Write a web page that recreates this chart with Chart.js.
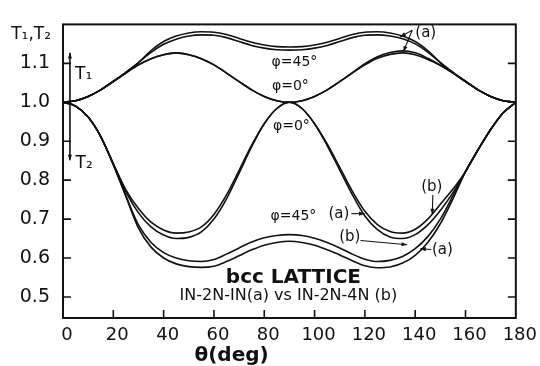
<!DOCTYPE html>
<html>
<head>
<meta charset="utf-8">
<script src="https://cdn.jsdelivr.net/npm/chart.js@4/dist/chart.umd.min.js"></script>
<style>
  html, body { margin: 0; padding: 0; background: #fff; }
  #wrap { width: 540px; height: 366px; }
</style>
</head>
<body>
<div id="wrap"><canvas id="grafico" width="540" height="366"></canvas></div>
<script>
// theta (deg) em passos de 5
const theta = [0,5,10,15,20,25,30,35,40,45,50,55,60,65,70,75,80,85,90,
               95,100,105,110,115,120,125,130,135,140,145,150,155,160,165,170,175,180];

// T1, phi = 45 (a) e (b)
const t1Phi45a = [1.000,1.004,1.015,1.032,1.054,1.077,1.102,1.133,1.156,1.170,1.178,1.181,1.180,1.174,1.164,1.154,1.147,1.143,1.142,
                  1.143,1.147,1.154,1.164,1.174,1.180,1.181,1.178,1.170,1.156,1.133,1.102,1.077,1.054,1.032,1.015,1.004,1.000];
const t1Phi45b = [1.000,1.004,1.015,1.032,1.054,1.077,1.102,1.128,1.149,1.162,1.170,1.173,1.172,1.166,1.156,1.146,1.139,1.135,1.134,
                  1.135,1.139,1.146,1.156,1.166,1.172,1.173,1.170,1.163,1.150,1.129,1.102,1.077,1.054,1.032,1.015,1.004,1.000];

// T1, phi = 0 (a) e (b)
const t1Phi0a = [1.000,1.004,1.015,1.032,1.053,1.075,1.096,1.112,1.122,1.127,1.122,1.112,1.096,1.075,1.053,1.032,1.015,1.004,1.000,
                 1.004,1.015,1.032,1.053,1.076,1.099,1.117,1.128,1.132,1.127,1.113,1.095,1.075,1.053,1.032,1.015,1.004,1.000];
const t1Phi0b = [1.000,1.004,1.015,1.032,1.053,1.075,1.096,1.112,1.122,1.127,1.122,1.112,1.096,1.075,1.053,1.032,1.015,1.004,1.000,
                 1.004,1.015,1.032,1.053,1.075,1.096,1.113,1.123,1.127,1.122,1.110,1.095,1.075,1.053,1.032,1.015,1.004,1.000];

// T2, phi = 0 (a) e (b)
const t2Phi0a = [1.000,0.990,0.962,0.912,0.842,0.775,0.727,0.692,0.672,0.664,0.667,0.680,0.712,0.762,0.825,0.890,0.945,0.984,1.000,
                 0.984,0.945,0.893,0.833,0.772,0.720,0.686,0.668,0.664,0.674,0.700,0.738,0.777,0.822,0.878,0.930,0.973,1.000];
const t2Phi0b = [1.000,0.990,0.962,0.912,0.842,0.770,0.716,0.680,0.659,0.650,0.653,0.667,0.700,0.752,0.818,0.886,0.945,0.984,1.000,
                 0.984,0.945,0.889,0.826,0.763,0.708,0.673,0.654,0.650,0.660,0.685,0.722,0.768,0.822,0.878,0.930,0.973,1.000];

// T2, phi = 45 (a) e (b)
const t2Phi45a = [1.000,0.990,0.962,0.912,0.840,0.760,0.685,0.640,0.614,0.600,0.593,0.591,0.596,0.610,0.626,0.641,0.652,0.658,0.660,
                  0.658,0.651,0.640,0.626,0.610,0.597,0.591,0.594,0.604,0.624,0.655,0.700,0.760,0.822,0.878,0.930,0.973,1.000];
const t2Phi45b = [1.000,0.990,0.962,0.912,0.840,0.758,0.677,0.628,0.600,0.585,0.578,0.576,0.579,0.591,0.606,0.621,0.633,0.640,0.643,
                  0.640,0.633,0.621,0.608,0.593,0.580,0.575,0.577,0.587,0.607,0.640,0.688,0.752,0.822,0.878,0.930,0.973,1.000];

const xTicks = [0,20,40,60,80,100,120,140,160,180];
const yTicks = [0.5,0.6,0.7,0.8,0.9,1.0,1.1];

const series = [t1Phi45a, t1Phi45b, t1Phi0a, t1Phi0b, t2Phi0a, t2Phi0b, t2Phi45a, t2Phi45b];

const FONTE = '"DejaVu Sans", "Liberation Sans", sans-serif';
const TINTA = "#111";

function seta(ctx, x1, y1, x2, y2) {
  const ang = Math.atan2(y2 - y1, x2 - x1);
  const tam = 6;
  ctx.beginPath();
  ctx.moveTo(x1, y1);
  ctx.lineTo(x2, y2);
  ctx.stroke();
  ctx.beginPath();
  ctx.moveTo(x2, y2);
  ctx.lineTo(x2 - tam * Math.cos(ang - 0.35), y2 - tam * Math.sin(ang - 0.35));
  ctx.lineTo(x2 - tam * Math.cos(ang + 0.35), y2 - tam * Math.sin(ang + 0.35));
  ctx.closePath();
  ctx.fill();
}

// moldura, ticks para dentro e anotações
const anotacoes = {
  id: "anotacoes",
  afterDraw(chart) {
    const { ctx, chartArea: a, scales: { x, y } } = chart;
    const px = v => x.getPixelForValue(v);
    const py = v => y.getPixelForValue(v);
    ctx.save();
    ctx.strokeStyle = TINTA;
    ctx.fillStyle = TINTA;
    ctx.lineWidth = 2;
    ctx.strokeRect(a.left, a.top, a.right - a.left, a.bottom - a.top);

    ctx.lineWidth = 1.6;
    xTicks.slice(1, -1).forEach(t => {
      ctx.beginPath();
      ctx.moveTo(px(t), a.bottom);
      ctx.lineTo(px(t), a.bottom - 8);
      ctx.stroke();
    });
    yTicks.forEach(t => {
      ctx.beginPath();
      ctx.moveTo(a.left, py(t));
      ctx.lineTo(a.left + 8, py(t));
      ctx.moveTo(a.right, py(t));
      ctx.lineTo(a.right - 8, py(t));
      ctx.stroke();
    });

    // textos dentro do gráfico
    ctx.textAlign = "center";
    ctx.textBaseline = "middle";
    ctx.font = "14px " + FONTE;
    ctx.fillText("\u03c6=45\u00b0", px(92), py(1.102));
    ctx.fillText("\u03c6=0\u00b0", px(90.4), py(1.041));
    ctx.fillText("\u03c6=0\u00b0", px(90.8), py(0.937));
    ctx.fillText("\u03c6=45\u00b0", px(91.6), py(0.707));

    ctx.font = "15px " + FONTE;
    ctx.fillText("(a)", px(109.7), py(0.712));
    ctx.fillText("(b)", px(114), py(0.654));
    ctx.fillText("(a)", px(150.8), py(0.621));
    ctx.fillText("(b)", px(146.6), py(0.782));
    ctx.fillText("(a)", px(144.2), py(1.178));

    ctx.lineWidth = 1.1;
    seta(ctx, px(114.6), py(0.714), px(119.9), py(0.714));
    seta(ctx, px(118.3), py(0.645), px(136.8), py(0.634));
    seta(ctx, px(146.4), py(0.622), px(142), py(0.624));
    seta(ctx, px(147), py(0.762), px(146.8), py(0.712));
    seta(ctx, px(138.8), py(1.185), px(134), py(1.168));
    seta(ctx, px(138.8), py(1.185), px(135.3), py(1.130));

    // setas T1 / T2
    ctx.lineWidth = 1.6;
    seta(ctx, px(2.75), py(1.0), px(2.75), py(1.127));
    seta(ctx, px(2.75), py(1.0), px(2.75), py(0.851));
    ctx.font = "17px " + FONTE;
    ctx.fillText("T\u2081", px(8.2), py(1.071));
    ctx.fillText("T\u2082", px(8.4), py(0.843));

    ctx.font = "bold 20px " + FONTE;
    ctx.fillText("bcc LATTICE", px(91.6), py(0.549));
    ctx.font = "16px " + FONTE;
    ctx.fillText("IN-2N-IN(a) vs IN-2N-4N (b)", px(89.6), py(0.502));

    // título dos eixos
    ctx.font = "bold 20px " + FONTE;
    ctx.fillText("\u03b8(deg)", px(67), a.bottom + 38);
    ctx.font = "17px " + FONTE;
    ctx.textAlign = "right";
    ctx.fillText("T\u2081,T\u2082", a.left - 12, a.top + 10);
    ctx.restore();
  }
};

const datasets = series.map(vals => ({
  data: theta.map((t, i) => ({ x: t, y: vals[i] })),
  borderColor: TINTA,
  borderWidth: 1.6,
  pointRadius: 0,
  fill: false,
  cubicInterpolationMode: "monotone"
}));

new Chart(document.getElementById("grafico").getContext("2d"), {
  type: "line",
  data: { datasets },
  plugins: [anotacoes],
  options: {
    responsive: false,
    animation: false,
    devicePixelRatio: 1,
    layout: { padding: { top: 10, right: 19, left: 0, bottom: 0 } },
    plugins: { legend: { display: false }, tooltip: { enabled: false } },
    scales: {
      x: {
        type: "linear",
        min: 0,
        max: 180,
        afterFit: s => { s.height = 48; },
        afterBuildTicks: s => { s.ticks = xTicks.map(v => ({ value: v })); },
        grid: { display: false, drawTicks: false },
        border: { display: false },
        ticks: { color: TINTA, font: { size: 18, family: FONTE }, padding: 7, labelOffset: 4 }
      },
      y: {
        type: "linear",
        min: 0.446,
        max: 1.2,
        afterFit: s => { s.width = 63; },
        afterBuildTicks: s => { s.ticks = yTicks.map(v => ({ value: v })); },
        grid: { display: false, drawTicks: false },
        border: { display: false },
        ticks: {
          color: TINTA,
          font: { size: 19, family: FONTE },
          padding: 13,
          callback: v => v.toFixed(1)
        }
      }
    }
  }
});
</script>
</body>
</html>
